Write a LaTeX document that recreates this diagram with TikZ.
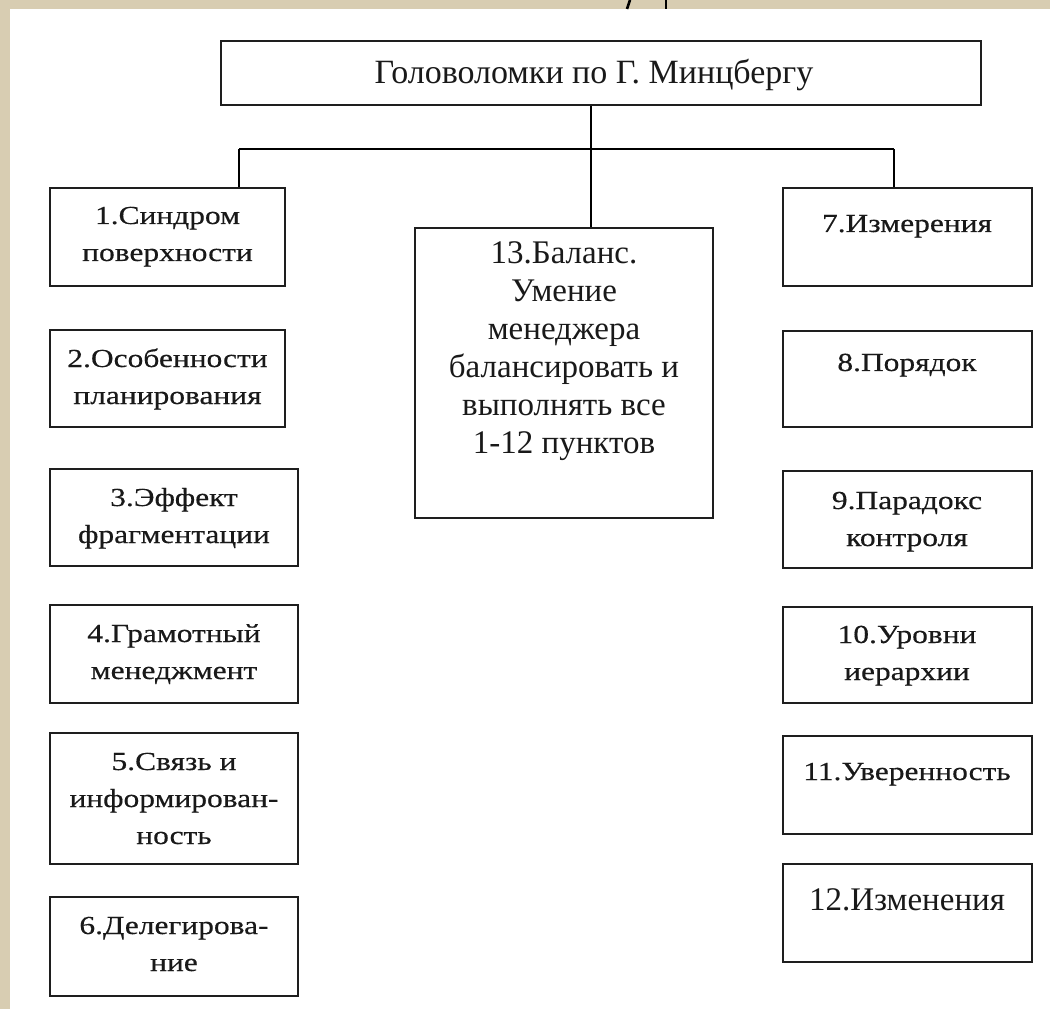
\documentclass[tikz,border=0pt]{standalone}
\usepackage{fontspec}
\setmainfont{Liberation Serif}
\newfontfamily\boxfont{Liberation Serif}[FakeStretch=1.21,FakeBold=0.4]
\usetikzlibrary{fit}
\definecolor{beige}{RGB}{216,205,178}
\definecolor{edge}{RGB}{30,30,30}
\begin{document}
\begin{tikzpicture}[x=0.75pt,y=-0.75pt,
  box/.style={draw=edge,line width=2pt,fill=white,inner sep=0pt},
  stext/.style={align=center,inner sep=0pt,anchor=base,text=black!90,
    font=\boxfont\fontsize{19.5pt}{27.75pt}\selectfont},
  ctext/.style={align=center,inner sep=0pt,anchor=base,text=black!90,
    font=\fontsize{24.75pt}{28.5pt}\selectfont},
  ttext/.style={inner sep=0pt,anchor=base,text=black!90,font=\fontsize{25.5pt}{30pt}\selectfont},
  conn/.style={draw=black,line width=1.7pt}]
% background
\fill[beige] (0,0) rectangle (1050,1009);
\fill[white] (10,9) rectangle (1050,1009);
\useasboundingbox (0,0) rectangle (1050,1009);
% fragments at the top edge
\draw[line width=2pt] (630,0) -- (627,9);
\draw[line width=2pt] (666,0) -- (666,9);
% boxes
\node[box,fit={(221,41) (981,105)}] (top) {};
\node[box,fit={(415,228) (713,518)}] (b13) {};
\node[box,fit={(50,188) (285,286)}] (b1) {};
\node[box,fit={(50,330) (285,427)}] (b2) {};
\node[box,fit={(50,469) (298,566)}] (b3) {};
\node[box,fit={(50,605) (298,703)}] (b4) {};
\node[box,fit={(50,733) (298,864)}] (b5) {};
\node[box,fit={(50,897) (298,996)}] (b6) {};
\node[box,fit={(783,188) (1032,286)}] (b7) {};
\node[box,fit={(783,331) (1032,427)}] (b8) {};
\node[box,fit={(783,471) (1032,568)}] (b9) {};
\node[box,fit={(783,607) (1032,703)}] (b10) {};
\node[box,fit={(783,736) (1032,834)}] (b11) {};
\node[box,fit={(783,864) (1032,962)}] (b12) {};
% texts (anchor base = baseline of the last line)
\node[ttext] (tt) at (594,84) {Головоломки по Г. Минцбергу};
\node[ctext] (t13) at (564,453) {13.Баланс.\\Умение\\менеджера\\балансировать и\\выполнять все\\1-12 пунктов};
\node[stext] (t1) at (167.5,261) {1.Синдром\\поверхности};
\node[stext] (t2) at (167.5,404) {2.Особенности\\планирования};
\node[stext] (t3) at (174,543) {3.Эффект\\фрагментации};
\node[stext] (t4) at (174,679) {4.Грамотный\\менеджмент};
\node[stext] (t5) at (174,844) {5.Связь и\\информирован-\\ность};
\node[stext] (t6) at (174,971) {6.Делегирова-\\ние};
\node[stext] (t7) at (907,232) {7.Измерения};
\node[stext] (t8) at (907,371) {8.Порядок};
\node[stext] (t9) at (907,546) {9.Парадокс\\контроля};
\node[stext] (t10) at (907,680) {10.Уровни\\иерархии};
\node[stext] (t11) at (907,780) {11.Уверенность};
\node[ctext] (t12) at (907,910) {12.Изменения};
% connectors
\coordinate (jm) at (591,149);
\coordinate (jl) at (239,149);
\coordinate (jr) at (894,149);
\draw[conn] (top.south -| jm) -- (b13.north -| jm);
\draw[conn] (jl) -- (jr);
\draw[conn] (jl) -- (jl |- b1.north);
\draw[conn] (jr) -- (jr |- b7.north);
\end{tikzpicture}
\end{document}
